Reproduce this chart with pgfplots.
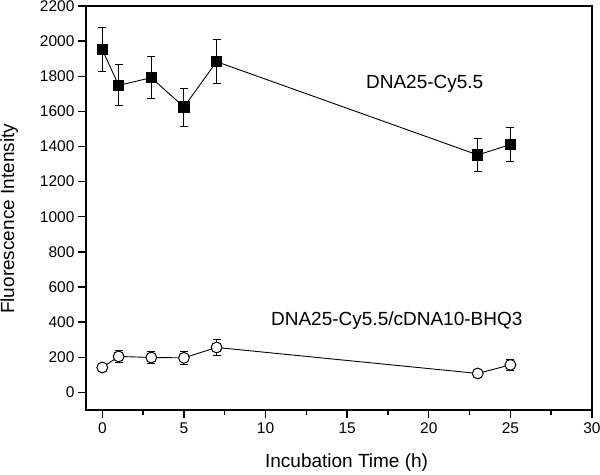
\documentclass[border=0pt]{standalone}
\usepackage{fontspec}
\setmainfont{Liberation Sans}
\usepackage{pgfplots}
\pgfplotsset{compat=1.18}
\pgfplotstableread{
x y e
0 1952 127
1 1748 117
3 1792 118
5 1625 108
7 1883 125
23 1352 93
25 1411 97
}\sq
\pgfplotstableread{
x y e
0 142 25
1 205 36
3 199 35
5 197 35
7 256 43
23 108 20
25 157 30
}\ci
\begin{document}
\begin{tikzpicture}
\begin{axis}[
  scale only axis, width=506bp, height=404bp,
  xmin=-1, xmax=30, ymin=-100, ymax=2200,
  xtick={0,5,...,30}, ytick={0,200,...,2200},
  minor x tick num=1,
  tick pos=left, tick align=outside,
  major tick length=8bp, minor tick length=5bp,
  axis line style={line width=1.6bp},
  every tick/.style={line width=1.4bp, black},
  /pgf/number format/assume math mode=true,
  /pgf/number format/1000 sep={},
  xticklabel={\pgfmathprintnumber[assume math mode=true,1000 sep={}]{\tick}},
  yticklabel={\pgfmathprintnumber[assume math mode=true,1000 sep={}]{\tick}},
  tick label style={font=\fontsize{15.5bp}{17bp}\selectfont},
  xticklabel style={yshift=-1bp},
  yticklabel style={xshift=0bp},
  xlabel={Incubation Time (h)}, ylabel={Fluorescence Intensity},
  label style={font=\fontsize{19bp}{22bp}\selectfont},
  xlabel style={at={(rel axis cs:0.515,-0.129)}, anchor=center},
  ylabel style={at={(rel axis cs:-0.152,0.473)}, anchor=center},
  clip=false,
  errb/.style={draw=none, mark=none, forget plot,
    error bars/.cd, y dir=both, y explicit,
    error bar style={line width=0.9bp, black, solid},
    error mark options={rotate=90, mark size=4bp, line width=0.9bp, draw=black}},
]
\addplot[errb] table[x=x, y=y, y error=e] {\sq};
\addplot[errb] table[x=x, y=y, y error=e] {\ci};
\addplot[black, line width=0.9bp, mark=square*, mark size=5.2bp,
  mark options={fill=black, solid}] table[x=x, y=y] {\sq};
\addplot[black, line width=0.9bp, mark=*, mark size=5.4bp,
  mark options={fill=white, draw=black, solid, line width=1bp}] table[x=x, y=y] {\ci};
\node[font=\fontsize{19bp}{22bp}\selectfont] at (axis cs:19.75,1759) {DNA25-Cy5.5};
\node[font=\fontsize{19bp}{22bp}\selectfont] at (axis cs:18.04,408) {DNA25-Cy5.5/cDNA10-BHQ3};
\end{axis}
\pgfresetboundingbox
\path[use as bounding box] (-86bp,-65bp) rectangle (514bp,410bp);
\end{tikzpicture}
\end{document}
